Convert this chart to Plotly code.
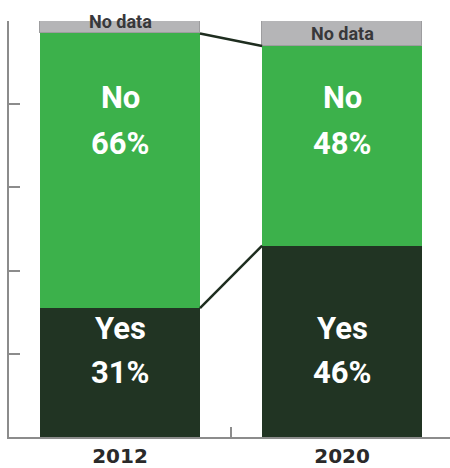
import plotly.graph_objects as go

# Survey shares (%) per year
years = ["2012", "2020"]
yes_pct = [31, 46]
no_pct = [66, 48]
nodata_pct = [3, 6]

DARK = "#213423"
GREEN = "#3cb14b"
GRAY = "#b5b5b7"
AXIS = "#8c8c8c"
BAR_W = 0.72

fig = go.Figure()

fig.add_trace(go.Bar(x=years, y=yes_pct, width=BAR_W, marker=dict(color=DARK, line=dict(width=0)),
                     hoverinfo="skip"))
fig.add_trace(go.Bar(x=years, y=no_pct, width=BAR_W, marker=dict(color=GREEN, line=dict(width=0)),
                     hoverinfo="skip"))
fig.add_trace(go.Bar(x=years, y=nodata_pct, width=BAR_W,
                     marker=dict(color=GRAY, line=dict(color="#9d9d9f", width=1)),
                     hoverinfo="skip"))

# Connector lines between the segment boundaries of neighbouring bars
yes_top = yes_pct
no_top = [y + n for y, n in zip(yes_pct, no_pct)]
edge_x = [0 + BAR_W / 2, 1 - BAR_W / 2]
for tops in (yes_top, no_top):
    fig.add_trace(go.Scatter(x=edge_x, y=tops, xaxis="x2", mode="lines",
                             line=dict(color="#1e2d1f", width=2.5), hoverinfo="skip"))

# Segment labels: category word on one line, share on the next
big = dict(family="Roboto, sans-serif", size=31, color="white", weight="bold")
small = dict(family="Roboto, sans-serif", size=18, color="#38383a", weight="bold")
no_word_y, no_pct_y = 81.5, 70.6
yes_word_y, yes_pct_y = 26.1, 15.6
nodata_label_y = [100, 97]
for i, yr in enumerate(years):
    for txt, yy in (("No", no_word_y), (f"{no_pct[i]}%", no_pct_y),
                    ("Yes", yes_word_y), (f"{yes_pct[i]}%", yes_pct_y)):
        fig.add_annotation(x=i, y=yy, xref="x2", yref="y", text=txt,
                           showarrow=False, font=big)
    fig.add_annotation(x=i, y=nodata_label_y[i], xref="x2", yref="y", text="No data",
                       showarrow=False, font=small)

XR = [-0.5, 1.486]
fig.update_layout(
    width=450, height=468,
    margin=dict(l=9, r=0, t=21, b=31),
    barmode="stack", bargap=0,
    showlegend=False,
    plot_bgcolor="white", paper_bgcolor="white",
    xaxis=dict(type="category", range=XR, showline=True, linecolor=AXIS, linewidth=1.5,
               ticks="inside", tickson="boundaries", ticklen=10, tickcolor=AXIS, tickwidth=1.5,
               showgrid=False, zeroline=False,
               tickfont=dict(family="DejaVu Sans, sans-serif", size=20, color="#2a2a2a", weight="bold")),
    xaxis2=dict(overlaying="x", range=XR, visible=False),
    yaxis=dict(range=[0, 100], showline=True, linecolor=AXIS, linewidth=1.5,
               ticks="inside", ticklen=11, tickcolor=AXIS, tickwidth=1.5, dtick=20,
               showticklabels=False, showgrid=False, zeroline=False),
)

fig.write_html("out.html")
